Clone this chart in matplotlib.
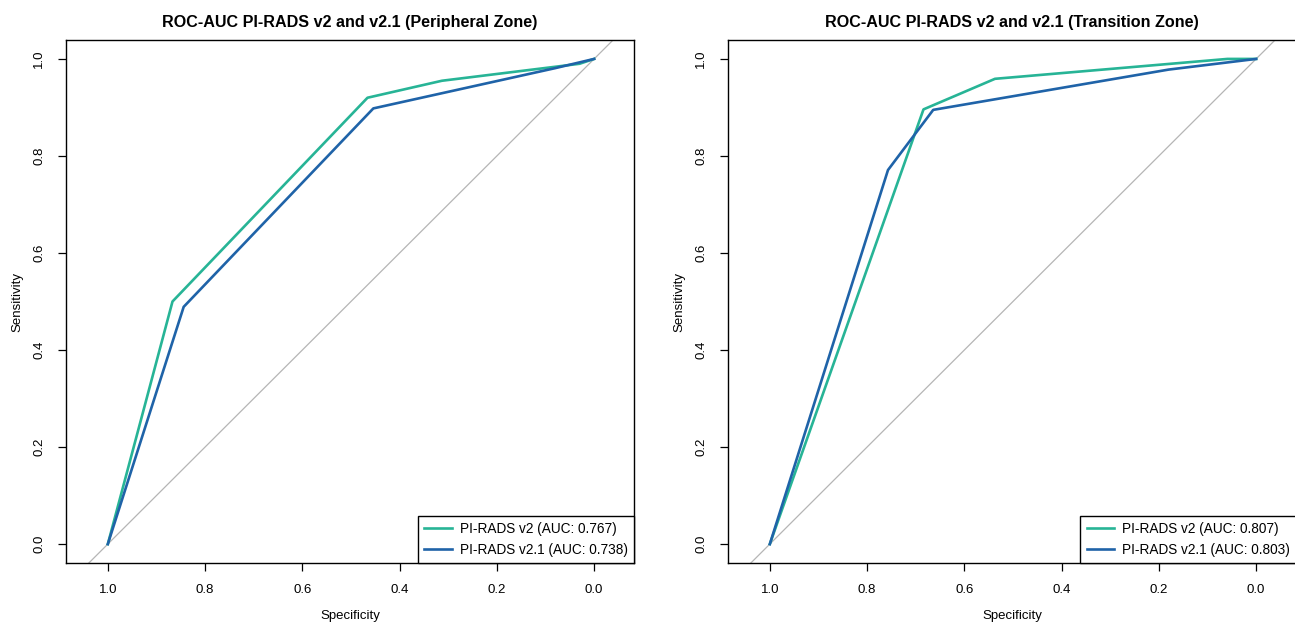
import matplotlib
matplotlib.use("Agg")
import matplotlib.pyplot as plt

plt.rcParams['font.family'] = ['Liberation Sans', 'DejaVu Sans']

# peripheral zone
pz_v2_spec = [1.0, 0.867, 0.466, 0.313, 0.03, 0.0]
pz_v2_sens = [0.0, 0.500, 0.920, 0.955, 0.99, 1.0]
pz_v21_spec = [1.0, 0.844, 0.454, 0.08, 0.0]
pz_v21_sens = [0.0, 0.489, 0.898, 0.981, 1.0]

# transition zone
tz_v2_spec = [1.0, 0.684, 0.537, 0.059, 0.0]
tz_v2_sens = [0.0, 0.896, 0.959, 1.0, 1.0]
tz_v21_spec = [1.0, 0.757, 0.664, 0.18, 0.0]
tz_v21_sens = [0.0, 0.771, 0.895, 0.978, 1.0]

titles = ["ROC-AUC PI-RADS v2 and v2.1 (Peripheral Zone)",
          "ROC-AUC PI-RADS v2 and v2.1 (Transition Zone)"]
labels_pz = ["PI-RADS v2 (AUC: 0.767)", "PI-RADS v2.1 (AUC: 0.738)"]
labels_tz = ["PI-RADS v2 (AUC: 0.807)", "PI-RADS v2.1 (AUC: 0.803)"]
ticks = [1.0, 0.8, 0.6, 0.4, 0.2, 0.0]

c_v2 = "#27B496"
c_v21 = "#1F63A8"

fig = plt.figure(figsize=(12.95, 6.22), dpi=100)
ax1 = fig.add_axes([66/1295, 59/622, 568/1295, 523/622])
ax2 = fig.add_axes([728/1295, 59/622, 568/1295, 523/622])

panels = [
    (ax1, pz_v2_spec, pz_v2_sens, pz_v21_spec, pz_v21_sens, labels_pz, titles[0]),
    (ax2, tz_v2_spec, tz_v2_sens, tz_v21_spec, tz_v21_sens, labels_tz, titles[1]),
]

for ax, s1, y1, s2, y2, labs, title in panels:
    ax.axline((1, 0), (0, 1), color="#B5B5B5", lw=0.9, zorder=1)
    ax.plot(s1, y1, color=c_v2, lw=1.9, label=labs[0], zorder=3)
    ax.plot(s2, y2, color=c_v21, lw=1.9, label=labs[1], zorder=3)
    ax.set_xlim(1.086, -0.082)
    ax.set_ylim(-0.039, 1.039)
    ax.set_xticks(ticks)
    ax.set_yticks(ticks)
    ax.set_xticklabels([f"{t:.1f}" for t in ticks])
    ax.set_yticklabels([f"{t:.1f}" for t in ticks], rotation=90, va="center")
    ax.tick_params(direction="out", length=6, width=0.9, labelsize=9.5, pad=9)
    for sp in ax.spines.values():
        sp.set_linewidth(1.0)
    ax.set_xlabel("Specificity", fontsize=9.5, labelpad=10)
    ax.set_ylabel("Sensitivity", fontsize=9.5, labelpad=7)
    ax.set_title(title, fontsize=11.6, fontweight="bold", pad=9)
    leg = ax.legend(loc="lower right", borderaxespad=0, fancybox=False,
                    framealpha=1, edgecolor="black", fontsize=9.8,
                    handlelength=2.0, handletextpad=0.6, borderpad=0.45,
                    labelspacing=0.5)
    leg.get_frame().set_linewidth(1.0)

fig.savefig("out.png", dpi=100)
